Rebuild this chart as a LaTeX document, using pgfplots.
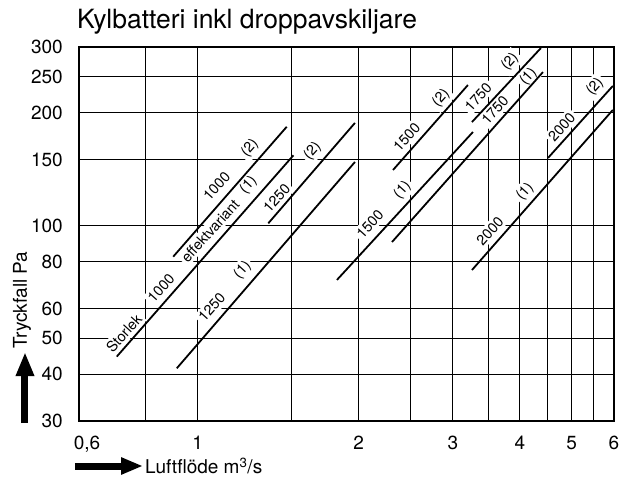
\documentclass[border=0pt]{standalone}
\usepackage{fontspec}
\setmainfont{TeX Gyre Heros}
\usepackage{pgfplots}
\pgfplotsset{compat=1.18}
\usetikzlibrary{arrows.meta}
\tikzset{lbl/.style={rotate=48, fill=white, draw=none, inner sep=2.5pt, font=\fontsize{14.5}{16}\selectfont}}

\begin{document}
\begin{tikzpicture}
\path[use as bounding box] (-79pt,-62pt) rectangle (553pt,421pt);
\begin{axis}[
  at={(0pt,0pt)}, anchor=south west,
  scale only axis, width=535pt, height=374pt,
  xmode=log, ymode=log,
  xmin=0.6, xmax=6, ymin=30, ymax=300,
  xtick={0.8,1,1.5,2,2.5,3,3.5,4,4.5,5,5.5,6},
  xticklabels={,1,,2,,3,,4,,5,,6},
  extra x ticks={0.6}, extra x tick labels={0{,}6},
  extra x tick style={grid=none, xticklabel style={xshift=8pt}},
  ytick={30,40,50,60,80,100,150,200,250,300},
  yticklabels={30,40,50,60,80,100,150,200,250,300},
  grid=major,
  grid style={black, line width=1pt},
  axis line style={black, line width=1.3pt},
  major tick length=0pt, minor tick length=0pt,
  tick style={draw=none},
  /pgf/number format/assume math mode=true,
  ticklabel style={font=\fontsize{19}{22}\selectfont, inner sep=0pt},
  xticklabel style={anchor=north, yshift=-15pt},
  yticklabel style={anchor=east, xshift=-16pt},
  clip=false,
  seg/.style={black, solid, line width=1.8pt, mark=none},
]
% labels (drawn first, white boxes break the grid)
\node[lbl] at (axis cs:0.728,51.5) {Storlek};
\node[lbl] at (axis cs:0.854,68.0) {1000};
\node[lbl] at (axis cs:1.055,96.8) {effektvariant};
\node[lbl] at (axis cs:1.244,128.3) {(1)};
\node[lbl] at (axis cs:1.085,127.0) {1000};
\node[lbl] at (axis cs:1.252,160.8) {(2)};
\node[lbl] at (axis cs:1.062,60.3) {1250};
\node[lbl] at (axis cs:1.213,76.0) {(1)};
\node[lbl] at (axis cs:1.405,118.1) {1250};
\node[lbl] at (axis cs:1.640,158.2) {(2)};
\node[lbl] at (axis cs:2.099,100.9) {1500};
\node[lbl] at (axis cs:2.414,124.4) {(1)};
\node[lbl] at (axis cs:2.459,172.7) {1500};
\node[lbl] at (axis cs:2.851,218.7) {(2)};
\node[lbl] at (axis cs:3.345,220.9) {1750};
\node[lbl] at (axis cs:3.835,274) {(2)};
\node[lbl] at (axis cs:3.594,203.6) {1750};
\node[lbl] at (axis cs:4.151,249.9) {(1)};
\node[lbl] at (axis cs:3.519,96.6) {2000};
\node[lbl] at (axis cs:4.092,123.1) {(1)};
\node[lbl] at (axis cs:4.791,183.6) {2000};
\node[lbl] at (axis cs:5.529,235) {(2)};
% pressure-drop lines
\addplot[seg] coordinates {(0.706,44.6) (1.51,154)};      % 1000 (1)
\addplot[seg] coordinates {(0.90,82.5) (1.467,183.6)};    % 1000 (2)
\addplot[seg] coordinates {(0.914,41.5) (1.968,147.8)};   % 1250 (1)
\addplot[seg] coordinates {(1.355,101.3) (1.968,188)};    % 1250 (2)
\addplot[seg] coordinates {(1.821,71.5) (3.27,177.8)};    % 1500 (1)
\addplot[seg] coordinates {(2.318,140.7) (3.20,237.4)};   % 1500 (2)
\addplot[seg] coordinates {(2.308,90.3) (4.42,257.1)};    % 1750 (1)
\addplot[seg] coordinates {(3.256,189) (4.38,298)};       % 1750 (2)
\addplot[seg] coordinates {(3.256,76.0) (5.97,203.6)};    % 2000 (1)
\addplot[seg] coordinates {(4.516,151.5) (5.97,236)};     % 2000 (2)
\end{axis}
% title
\node[anchor=base west, inner sep=0pt, font=\fontsize{26.5}{30}\selectfont] at (-2pt,392pt) {Kylbatteri inkl droppavskiljare};
% y axis label and arrow
\draw[line width=7pt, -{Triangle[length=24pt,width=17pt]}] (-54pt,-2pt) -- (-54pt,69pt);
\node[rotate=90, inner sep=0pt, font=\fontsize{19}{22}\selectfont] at (-57pt,121pt) {Tryckfall Pa};
% x axis label and arrow
\draw[line width=7pt, -{Triangle[length=22pt,width=16pt]}] (-4pt,-45pt) -- (64pt,-45pt);
\node[anchor=west, inner sep=0pt, font=\fontsize{19}{22}\selectfont] at (66pt,-45pt) {Luftflöde m\textsuperscript{3}/s};
\end{tikzpicture}
\end{document}
